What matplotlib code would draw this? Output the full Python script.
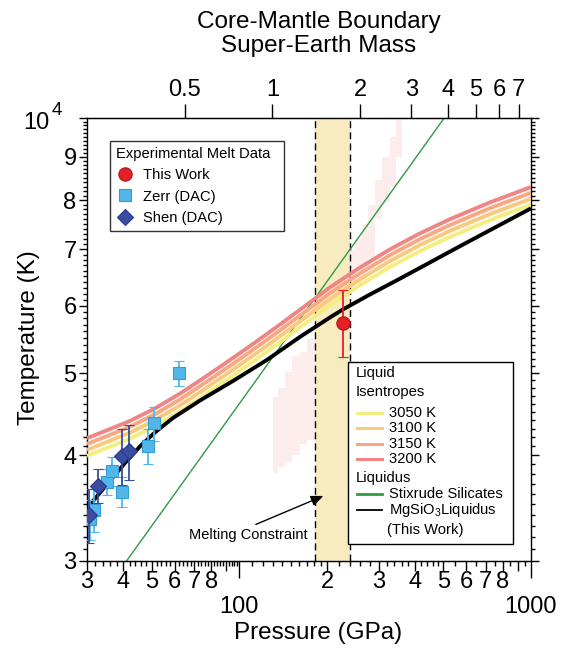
import numpy as np
import matplotlib.pyplot as plt
from matplotlib.lines import Line2D
from matplotlib.patches import Rectangle
from matplotlib.ticker import FixedLocator, NullLocator

# === Fonts ===
plt.rcParams['font.family'] = ['Liberation Sans', 'DejaVu Sans']
plt.rcParams['mathtext.fontset'] = 'custom'
plt.rcParams['mathtext.rm'] = 'Liberation Sans'
plt.rcParams['mathtext.it'] = 'Liberation Sans:italic'
plt.rcParams['mathtext.bf'] = 'Liberation Sans:bold'

# === Data (pressure in GPa, temperature in K) ===
# liquid isentropes, labelled by potential temperature
isen_p = [30, 36.0, 42.1, 51.3, 62.6, 76.2, 92.8, 113.1, 137.8, 167.9, 204.5,
          259.3, 328.6, 416.4, 527.7, 723.9, 1000]
isen_3200 = [4188, 4294, 4389, 4541, 4729, 4946, 5180, 5432, 5705, 5999, 6312,
             6661, 6999, 7310, 7596, 7951, 8290]
isen_3150 = [4123, 4227, 4320, 4470, 4655, 4869, 5099, 5347, 5616, 5905, 6213,
             6557, 6890, 7196, 7477, 7827, 8160]
isen_3100 = [4057, 4160, 4252, 4399, 4581, 4791, 5018, 5262, 5527, 5812, 6115,
             6453, 6780, 7082, 7359, 7703, 8031]
isen_3050 = [3992, 4093, 4183, 4328, 4507, 4714, 4937, 5177, 5438, 5718, 6016,
             6349, 6671, 6967, 7240, 7578, 7901]

# MgSiO3 liquidus (this work)
liq_p = [30, 33.2, 36.8, 40.5, 45.6, 51.3, 59.2, 73.3, 95.1, 124.3, 161.3, 204.5,
         226.6, 280.5, 347.2, 450.5, 584.7, 765, 1000]
liq_t = [3461, 3610, 3765, 3916, 4096, 4255, 4426, 4641, 4894, 5182, 5516, 5816,
         5944, 6191, 6435, 6754, 7090, 7448, 7822]

# Stixrude silicate liquidus (straight in log-log)
stix_p = [41, 504]
stix_t = [3000, 10000]

# melting constraint band
band_lo, band_hi = 182, 240

# faint pink region (vertical stripes, left edges)
pink_p = [130.4, 135.6, 143.3, 151.5, 161.3, 170.5, 182, 239.6, 249.2, 263.4,
          276.1, 291.8, 308.4, 328.6, 344.5, 361.3]
pink_lo = [3810, 3870, 3930, 4000, 4120, 4170, 4400, 6300, 6355, 6440,
           6850, 7600, 7960, 8280, 9000, 9000]
pink_hi = [4686, 4800, 5010, 5230, 5290, 5480, 6000, 6990, 7200, 7500,
           7900, 8450, 9000, 9500, 10000, 10000]

# experimental melt data
this_p, this_t, this_perr, this_terr_lo, this_terr_hi = [227], [5736], [6], [520], [530]

zerr_p = [30.8, 31.7, 35.0, 36.6, 39.6, 48.5, 50.8, 62]
zerr_t = [3360, 3450, 3720, 3830, 3620, 4100, 4360, 5000]
zerr_err = [180, 200, 130, 150, 150, 200, 200, 170]

shen_p = [30.6, 32.8, 39.7, 41.7]
shen_t = [3400, 3680, 3990, 4040]
shen_err = [250, 170, 300, 300]

# axis ticks
x_decades = [100, 1000]
x_mid = [30, 40, 50, 60, 70, 80, 90, 200, 300, 400, 500, 600, 700, 800, 900]
x_mid_labels = ['3', '4', '5', '6', '7', '8', '', '2', '3', '4', '5', '6', '7', '8', '']
x_fine = [32, 34, 36, 38, 42, 44, 46, 48, 52, 54, 56, 58, 62, 64, 66, 68, 72, 74, 76, 78,
          82, 84, 86, 88, 92, 94, 96, 98, 110, 120, 130, 140, 150, 160, 170, 180, 190,
          220, 240, 260, 280, 320, 340, 360, 380, 420, 440, 460, 480, 550, 650, 750, 850, 950]
y_major = [3000, 4000, 5000, 6000, 7000, 8000, 9000, 10000]
y_labels = ['3', '4', '5', '6', '7', '8', '9', '']
y_minor = [t for t in range(3100, 10000, 100) if t % 1000 != 0]

mass_ticks = [0.5, 1, 2, 3, 4, 5, 6, 7]
mass_labels = ['0.5', '1', '2', '3', '4', '5', '6', '7']
cmb_p_per_earth_mass = 129.7

# === Colours ===
c_3050, c_3100, c_3150, c_3200 = '#f4ee80', '#fbc97e', '#f8a882', '#f08585'
c_zerr, c_zerr_edge = '#52b7e8', '#2f9dd6'
c_shen, c_shen_edge = '#394ea0', '#27398a'
c_red, c_red_edge = '#e41f26', '#b0141b'
c_green = '#2f9a42'
c_band = '#f8ebc0'
c_pink = '#fcecec'

# === Figure ===
fig = plt.figure(figsize=(5.73, 6.49), dpi=100)
ax = fig.add_axes([0.1518, 0.1356, 0.7749, 0.6826])
ax.set_xscale('log')
ax.set_yscale('log')
ax.set_xlim(30, 1000)
ax.set_ylim(3000, 10000)

ax.fill_between(pink_p, pink_lo, pink_hi, step='post', color=c_pink, lw=0, zorder=0.5)
ax.axvspan(band_lo, band_hi, color=c_band, lw=0, zorder=1)
for xb in (band_lo, band_hi):
    ax.axvline(xb, color='k', lw=1, ls=(0, (5, 3)), zorder=1.5)

ax.plot(stix_p, stix_t, color=c_green, lw=1.0, zorder=2)
ax.plot(isen_p, isen_3050, color=c_3050, lw=2.8, zorder=3, solid_capstyle='butt')
ax.plot(isen_p, isen_3100, color=c_3100, lw=2.8, zorder=3, solid_capstyle='butt')
ax.plot(isen_p, isen_3150, color=c_3150, lw=2.8, zorder=3, solid_capstyle='butt')
ax.plot(isen_p, isen_3200, color=c_3200, lw=2.8, zorder=3, solid_capstyle='butt')
ax.plot(liq_p, liq_t, color='k', lw=2.8, zorder=4, solid_capstyle='butt')

ax.errorbar(zerr_p, zerr_t, yerr=zerr_err, fmt='s', ms=8.4, mfc=c_zerr, mec=c_zerr_edge,
            mew=0.8, ecolor=c_zerr, elinewidth=1.3, capsize=3.8, capthick=1.3, zorder=5)
ax.errorbar(shen_p, shen_t, yerr=shen_err, fmt='D', ms=8.5, mfc=c_shen, mec=c_shen_edge,
            mew=0.8, ecolor=c_shen, elinewidth=1.3, capsize=3.8, capthick=1.3, zorder=6)
ax.errorbar(this_p, this_t, yerr=[this_terr_lo, this_terr_hi], xerr=this_perr, fmt='o',
            ms=9.6, mfc=c_red, mec=c_red_edge, mew=0.8, ecolor=c_red, elinewidth=1.3,
            capsize=3.6, capthick=1.3, zorder=7)

ax.annotate('Melting Constraint', xy=(194, 3580), xytext=(107, 3222),
            ha='center', va='center', fontsize=10.5,
            arrowprops=dict(arrowstyle='-|>,head_length=0.7,head_width=0.3', color='k',
                            lw=1, relpos=(0.5, 1.0), shrinkA=1, shrinkB=0),
            zorder=8)

# === Axes styling ===
for s in ax.spines.values():
    s.set_linewidth(1)

ax.xaxis.set_major_locator(FixedLocator(x_decades))
ax.set_xticklabels(['100', '1000'])
ax.xaxis.set_minor_locator(FixedLocator(x_mid))
ax.set_xticklabels(x_mid_labels, minor=True)
ax.tick_params(axis='x', which='major', direction='out', length=12, width=1,
               labelsize=17, pad=13)
ax.tick_params(axis='x', which='minor', direction='out', length=7, width=1,
               labelsize=17, pad=0.5)

fine = ax.secondary_xaxis('bottom')
fine.set_xticks(x_fine)
fine.set_xticklabels([])
fine.xaxis.set_minor_locator(NullLocator())
fine.tick_params(axis='x', direction='out', length=3.5, width=1)

ax.yaxis.set_major_locator(FixedLocator(y_major))
ax.set_yticklabels(y_labels)
ax.yaxis.set_minor_locator(FixedLocator(y_minor))
ax.yaxis.set_minor_formatter(plt.NullFormatter())
ax.tick_params(axis='y', which='major', direction='out', length=6, width=1,
               labelsize=17, pad=1.5, right=True)
ax.tick_params(axis='y', which='minor', direction='out', length=3, width=1, right=True)
# the 10^4 label, set apart as in the original
ax.text(-0.0833, 0.9887, '10', transform=ax.transAxes, fontsize=17, ha='right', va='center')
ax.text(-0.0788, 1.0158, '4', transform=ax.transAxes, fontsize=13.5, ha='left', va='center')

top = ax.secondary_xaxis('top', functions=(lambda p: p / cmb_p_per_earth_mass,
                                           lambda m: m * cmb_p_per_earth_mass))
top.set_xticks(mass_ticks)
top.set_xticklabels(mass_labels)
top.xaxis.set_minor_locator(NullLocator())
top.tick_params(axis='x', direction='out', length=10, width=1, labelsize=17, pad=2)

ax.set_xlabel('Pressure (GPa)', fontsize=17.5)
ax.xaxis.set_label_coords(0.52, -0.138)
ax.set_ylabel('Temperature (K)', fontsize=17.5)
ax.yaxis.set_label_coords(-0.105, 0.5045)
fig.text(319 / 573, 1 - 34 / 649, 'Core-Mantle Boundary\nSuper-Earth Mass',
         ha='center', va='center', fontsize=17.5, linespacing=1.15)

# === Legend: experimental data ===
h_this = Line2D([], [], ls='none', marker='o', ms=9.6, mfc=c_red, mec=c_red_edge, mew=0.8)
h_zerr = Line2D([], [], ls='none', marker='s', ms=8.4, mfc=c_zerr, mec=c_zerr_edge, mew=0.8)
h_shen = Line2D([], [], ls='none', marker='D', ms=8.5, mfc=c_shen, mec=c_shen_edge, mew=0.8)
leg = ax.legend([h_this, h_zerr, h_shen], ['This Work', 'Zerr (DAC)', 'Shen (DAC)'],
                title='Experimental Melt Data', title_fontsize=10.6, fontsize=10.6,
                alignment='left', loc='upper left', mode='expand',
                bbox_to_anchor=(0.0518, 0.62, 0.392, 0.328),
                borderaxespad=0, frameon=True, fancybox=False, edgecolor='k',
                handlelength=1.22, handletextpad=0.6, labelspacing=0.5, borderpad=0.4)
leg.get_frame().set_linewidth(1)
leg.set_zorder(10)

# === Legend: curves (drawn by hand) ===
tr = ax.transAxes
ax.add_patch(Rectangle((0.588, 0.0384), 0.3715, 0.4106, transform=tr, fc='white',
                       ec='k', lw=1, zorder=10))
fs = 10.6
ax.text(0.606, 0.4237, 'Liquid', transform=tr, fontsize=fs, va='center', zorder=11)
ax.text(0.606, 0.3822, 'Isentropes', transform=tr, fontsize=fs, va='center', zorder=11)
rows = [(0.3348, c_3050, '3050 K', 2.2), (0.2996, c_3100, '3100 K', 2.2),
        (0.2634, c_3150, '3150 K', 2.2), (0.2296, c_3200, '3200 K', 2.2),
        (0.1512, c_green, 'Stixrude Silicates', 2.0),
        (0.1151, 'k', r'MgSiO$_\mathregular{3}$Liquidus', 1.3)]
for yr, col, lab, lw in rows:
    ax.plot([0.6088, 0.6637], [yr, yr], transform=tr, color=col, lw=lw, zorder=11,
            clip_on=False)
    ax.text(0.6802, yr, lab, transform=tr, fontsize=fs, va='center', zorder=11)
ax.text(0.606, 0.188, 'Liquidus', transform=tr, fontsize=fs, va='center', zorder=11)
ax.text(0.675, 0.070, '(This Work)', transform=tr, fontsize=fs, va='center', zorder=11)

fig.savefig('out.png', dpi=100)
